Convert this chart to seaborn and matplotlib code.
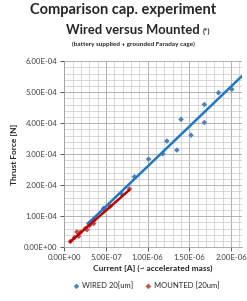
import numpy as np
import pandas as pd
import seaborn as sns
import matplotlib.pyplot as plt
from matplotlib.ticker import MultipleLocator, FuncFormatter

# data (current [A], thrust [N])
wired_current = [0.29e-6, 0.35e-6, 0.47e-6, 0.69e-6, 0.84e-6, 1.01e-6, 1.18e-6, 1.23e-6,
                 1.35e-6, 1.40e-6, 1.52e-6, 1.68e-6, 1.68e-6, 1.85e-6, 2.01e-6]
wired_thrust = [7.6e-5, 8.5e-5, 1.25e-4, 1.70e-4, 2.27e-4, 2.84e-4, 3.01e-4, 3.42e-4,
                3.13e-4, 4.12e-4, 3.61e-4, 4.60e-4, 4.02e-4, 4.98e-4, 5.09e-4]
mounted_current = [0.07e-6, 0.12e-6, 0.15e-6, 0.17e-6, 0.19e-6, 0.25e-6, 0.27e-6,
                   0.30e-6, 0.35e-6, 0.55e-6, 0.78e-6]
mounted_thrust = [1.8e-5, 3.1e-5, 4.9e-5, 3.5e-5, 4.8e-5, 6.0e-5, 5.6e-5,
                  7.0e-5, 7.6e-5, 1.32e-4, 1.88e-4]

wired_label = "WIRED 20[um]"
mounted_label = "MOUNTED [20um]"

x_max = 2.13e-6
y_max = 6e-4

sns.set_style("white")
plt.rcParams['font.family'] = ['Lato', 'DejaVu Sans']

fig = plt.figure(figsize=(2.47, 3.01), dpi=100)
ax = fig.add_axes([0.261, 0.179, 0.718, 0.618])

blue_pt, blue_ln = "#4F81BD", "#1F78C4"
red_pt, red_ln = "#C0504D", "#C00000"

wired = pd.DataFrame({"current": wired_current, "thrust": wired_thrust})
mounted = pd.DataFrame({"current": mounted_current, "thrust": mounted_thrust})

# linear trendlines
bw = np.polyfit(wired["current"], wired["thrust"], 1)
bm = np.polyfit(mounted["current"], mounted["thrust"], 1)
xw = np.linspace(wired["current"].min(), x_max, 50)
xm = np.linspace(mounted["current"].min(), mounted["current"].max(), 50)

sns.scatterplot(data=wired, x="current", y="thrust", ax=ax, marker="D", s=8,
                color=blue_pt, edgecolor="none", label=wired_label, zorder=3)
sns.scatterplot(data=mounted, x="current", y="thrust", ax=ax, marker="D", s=8,
                color=red_pt, edgecolor="none", label=mounted_label, zorder=3)
sns.lineplot(x=xw, y=np.polyval(bw, xw), ax=ax, color=blue_ln, lw=1.8, zorder=4)
sns.lineplot(x=xm, y=np.polyval(bm, xm), ax=ax, color=red_ln, lw=1.8, zorder=5)

ax.set_xlim(0, x_max)
ax.set_ylim(0, y_max)
ax.xaxis.set_major_locator(MultipleLocator(5e-7))
ax.xaxis.set_minor_locator(MultipleLocator(1e-7))
ax.yaxis.set_major_locator(MultipleLocator(1e-4))
ax.yaxis.set_minor_locator(MultipleLocator(2e-5))
ax.grid(which="major", color="#A6A6A6", lw=0.6)
ax.grid(which="minor", color="#C8C8C8", lw=0.5)
ax.set_axisbelow(True)

fmt = FuncFormatter(lambda v, p: f"{v:.2E}")
ax.xaxis.set_major_formatter(fmt)
ax.yaxis.set_major_formatter(fmt)
ax.tick_params(axis="both", which="major", labelsize=5.6, colors="#404040",
               length=3, width=0.6, bottom=True, left=True, pad=2)
ax.tick_params(which="minor", length=0)
for s in ["top", "right"]:
    ax.spines[s].set_visible(False)
for s in ["left", "bottom"]:
    ax.spines[s].set_color("#A0A0A0")
    ax.spines[s].set_linewidth(0.6)

ax.set_xlabel("Current [A] (~ accelerated mass)", fontsize=6, fontweight="bold", labelpad=3)
ax.set_ylabel("Thrust Force [N]", fontsize=6, fontweight="bold", labelpad=4)

fig.text(0.5, 0.967, "Comparison cap. experiment", ha="center", va="center",
         fontsize=10.5, fontweight="bold")
fig.text(0.81, 0.900, "Wired versus Mounted", ha="right", va="center",
         fontsize=9.4, fontweight="bold")
fig.text(0.822, 0.897, "(*)", ha="left", va="center", fontsize=5.5, fontweight="bold",
         color="#333333")
fig.text(0.54, 0.853, "(battery supplied + grounded Faraday cage)", ha="center",
         va="center", fontsize=4.6, fontweight="bold")

ax.legend(loc="upper center", bbox_to_anchor=(0.46, -0.15), ncol=2, frameon=False,
          fontsize=5.5, handletextpad=0.2, columnspacing=1.5, markerscale=1.0,
          handlelength=1.0)

fig.savefig("out.png", dpi=100)
